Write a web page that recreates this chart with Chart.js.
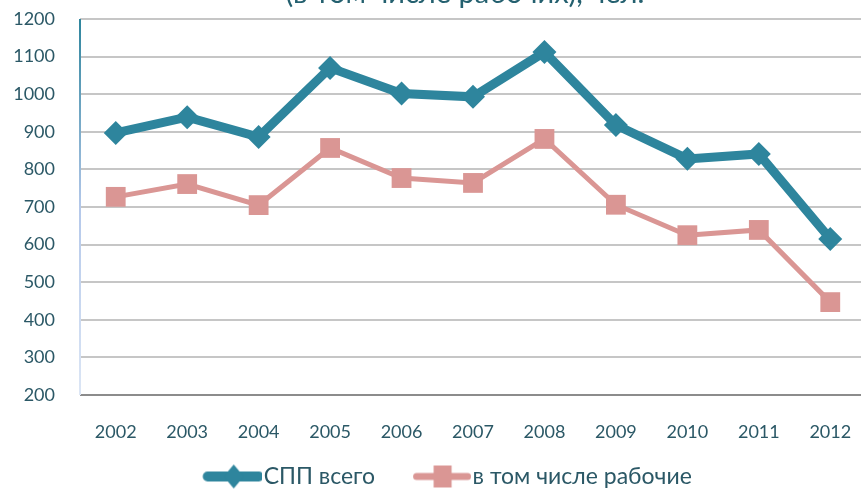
<!DOCTYPE html>
<html>
<head>
<meta charset="utf-8">
<script src="https://cdn.jsdelivr.net/npm/chart.js@4/dist/chart.umd.min.js"></script>
<style>
  html, body { margin: 0; padding: 0; background: #fff; }
  #wrap { position: relative; width: 861px; height: 489px; overflow: hidden; background: #fff; }
  #chart { position: absolute; left: 0; top: 0; }
</style>
</head>
<body>
<div id="wrap"><canvas id="chart" width="880" height="498"></canvas></div>
<script>
// Data
const years = ['2002', '2003', '2004', '2005', '2006', '2007', '2008', '2009', '2010', '2011', '2012'];
const sppTotal = [897, 939, 886, 1070, 1002, 993, 1112, 918, 828, 841, 615];
const workers = [727, 761, 705, 857, 777, 764, 881, 706, 625, 639, 447];
const yTicks = [200, 300, 400, 500, 600, 700, 800, 900, 1000, 1100, 1200];
const titleText = '(в том числе рабочих), чел.';

const TEAL = '#2E859D';
const PINK = '#DA9694';
const TEXT = '#2B5866';

const LEGEND_FONT = 23;
const LEGEND_BOX = 64;

// Legend symbol: a short line with the marker in the middle.
// Drawn into a wider transparent image so it sits right next to the label text.
function legendIcon(color, lineW, marker) {
    const visStart = LEGEND_BOX + LEGEND_FONT / 2 - 60;   // from box start
    const half = 42;
    const imgLeft = LEGEND_BOX / 2 - half;
    const x0 = visStart - imgLeft;
    const c = document.createElement('canvas');
    c.width = half * 2; c.height = 28;
    const g = c.getContext('2d');
    g.strokeStyle = color;
    g.lineWidth = lineW;
    g.lineCap = 'round';
    g.beginPath();
    g.moveTo(x0 + 4, 14); g.lineTo(x0 + 55, 14);
    g.stroke();
    g.fillStyle = color;
    g.beginPath();
    const m = x0 + 30;
    if (marker === 'diamond') {
        g.moveTo(m, 2); g.lineTo(m + 10, 14); g.lineTo(m, 26); g.lineTo(m - 10, 14);
    } else {
        g.rect(m - 9, 3, 18, 22);
    }
    g.closePath();
    g.fill();
    return c;
}

// Y axis line with a fade, and the title (cut at the top, as in the original)
const decor = {
    id: 'decor',
    afterDraw(chart) {
        const {ctx, chartArea} = chart;
        const grad = ctx.createLinearGradient(0, chartArea.top, 0, chartArea.bottom);
        grad.addColorStop(0, '#2E859D');
        grad.addColorStop(0.5, '#B4C8EA');
        grad.addColorStop(1, '#DCE6F5');
        ctx.save();
        ctx.strokeStyle = grad;
        ctx.lineWidth = 2;
        ctx.beginPath();
        ctx.moveTo(chartArea.left, chartArea.top);
        ctx.lineTo(chartArea.left, chartArea.bottom);
        ctx.stroke();

        ctx.fillStyle = '#24606F';
        ctx.font = '29px Lato';
        ctx.textAlign = 'center';
        ctx.textBaseline = 'alphabetic';
        ctx.fillText(titleText, 465, 3);
        ctx.restore();
    }
};

const ctx = document.getElementById('chart').getContext('2d');
new Chart(ctx, {
    type: 'line',
    data: {
        labels: years,
        datasets: [{
            label: 'СПП всего',
            data: sppTotal,
            borderColor: TEAL,
            backgroundColor: TEAL,
            borderWidth: 9,
            pointStyle: 'rectRot',
            pointRadius: 12,
            pointBackgroundColor: TEAL,
            pointBorderWidth: 0,
            tension: 0
        }, {
            label: 'в том числе рабочие',
            data: workers,
            borderColor: PINK,
            backgroundColor: PINK,
            borderWidth: 5,
            pointStyle: 'rect',
            pointRadius: 14,
            pointBackgroundColor: PINK,
            pointBorderWidth: 0,
            tension: 0
        }]
    },
    options: {
        responsive: false,
        animation: false,
        layout: { padding: { left: 0, right: 0, top: 19, bottom: 0 } },
        scales: {
            y: {
                min: 200,
                max: 1200,
                afterBuildTicks: (s) => { s.ticks = yTicks.map(v => ({ value: v })); },
                afterFit: (s) => { s.width = 80; s.paddingTop = 0; s.paddingBottom = 0; },
                grid: {
                    color: (c) => c.tick && c.tick.value === 200 ? '#8C8C8C' : '#C6C6C6',
                    lineWidth: 2,
                    drawTicks: false
                },
                border: { display: false },
                ticks: {
                    color: TEXT,
                    padding: 25,
                    font: { family: 'Lato', size: 18 },
                    callback: (v) => String(v)
                }
            },
            x: {
                offset: true,
                afterFit: (s) => { s.height = 48; s.paddingLeft = 0; s.paddingRight = 0; },
                grid: { display: false, drawTicks: false },
                border: { display: false },
                ticks: {
                    color: TEXT,
                    padding: 26,
                    maxRotation: 0,
                    font: { family: 'Lato', size: 18 }
                }
            }
        },
        plugins: {
            legend: {
                position: 'bottom',
                labels: {
                    usePointStyle: true,
                    pointStyleWidth: LEGEND_BOX,
                    color: TEXT,
                    padding: 22,
                    font: { family: 'Lato', size: LEGEND_FONT },
                    generateLabels: (chart) => chart.data.datasets.map((ds, i) => ({
                        text: ds.label,
                        pointStyle: i === 0 ? legendIcon(TEAL, 10, 'diamond') : legendIcon(PINK, 7, 'square'),
                        fillStyle: ds.borderColor,
                        strokeStyle: ds.borderColor,
                        lineWidth: 0,
                        fontColor: TEXT,
                        datasetIndex: i
                    }))
                }
            },
            tooltip: { enabled: false }
        }
    },
    plugins: [decor]
});
</script>
</body>
</html>
